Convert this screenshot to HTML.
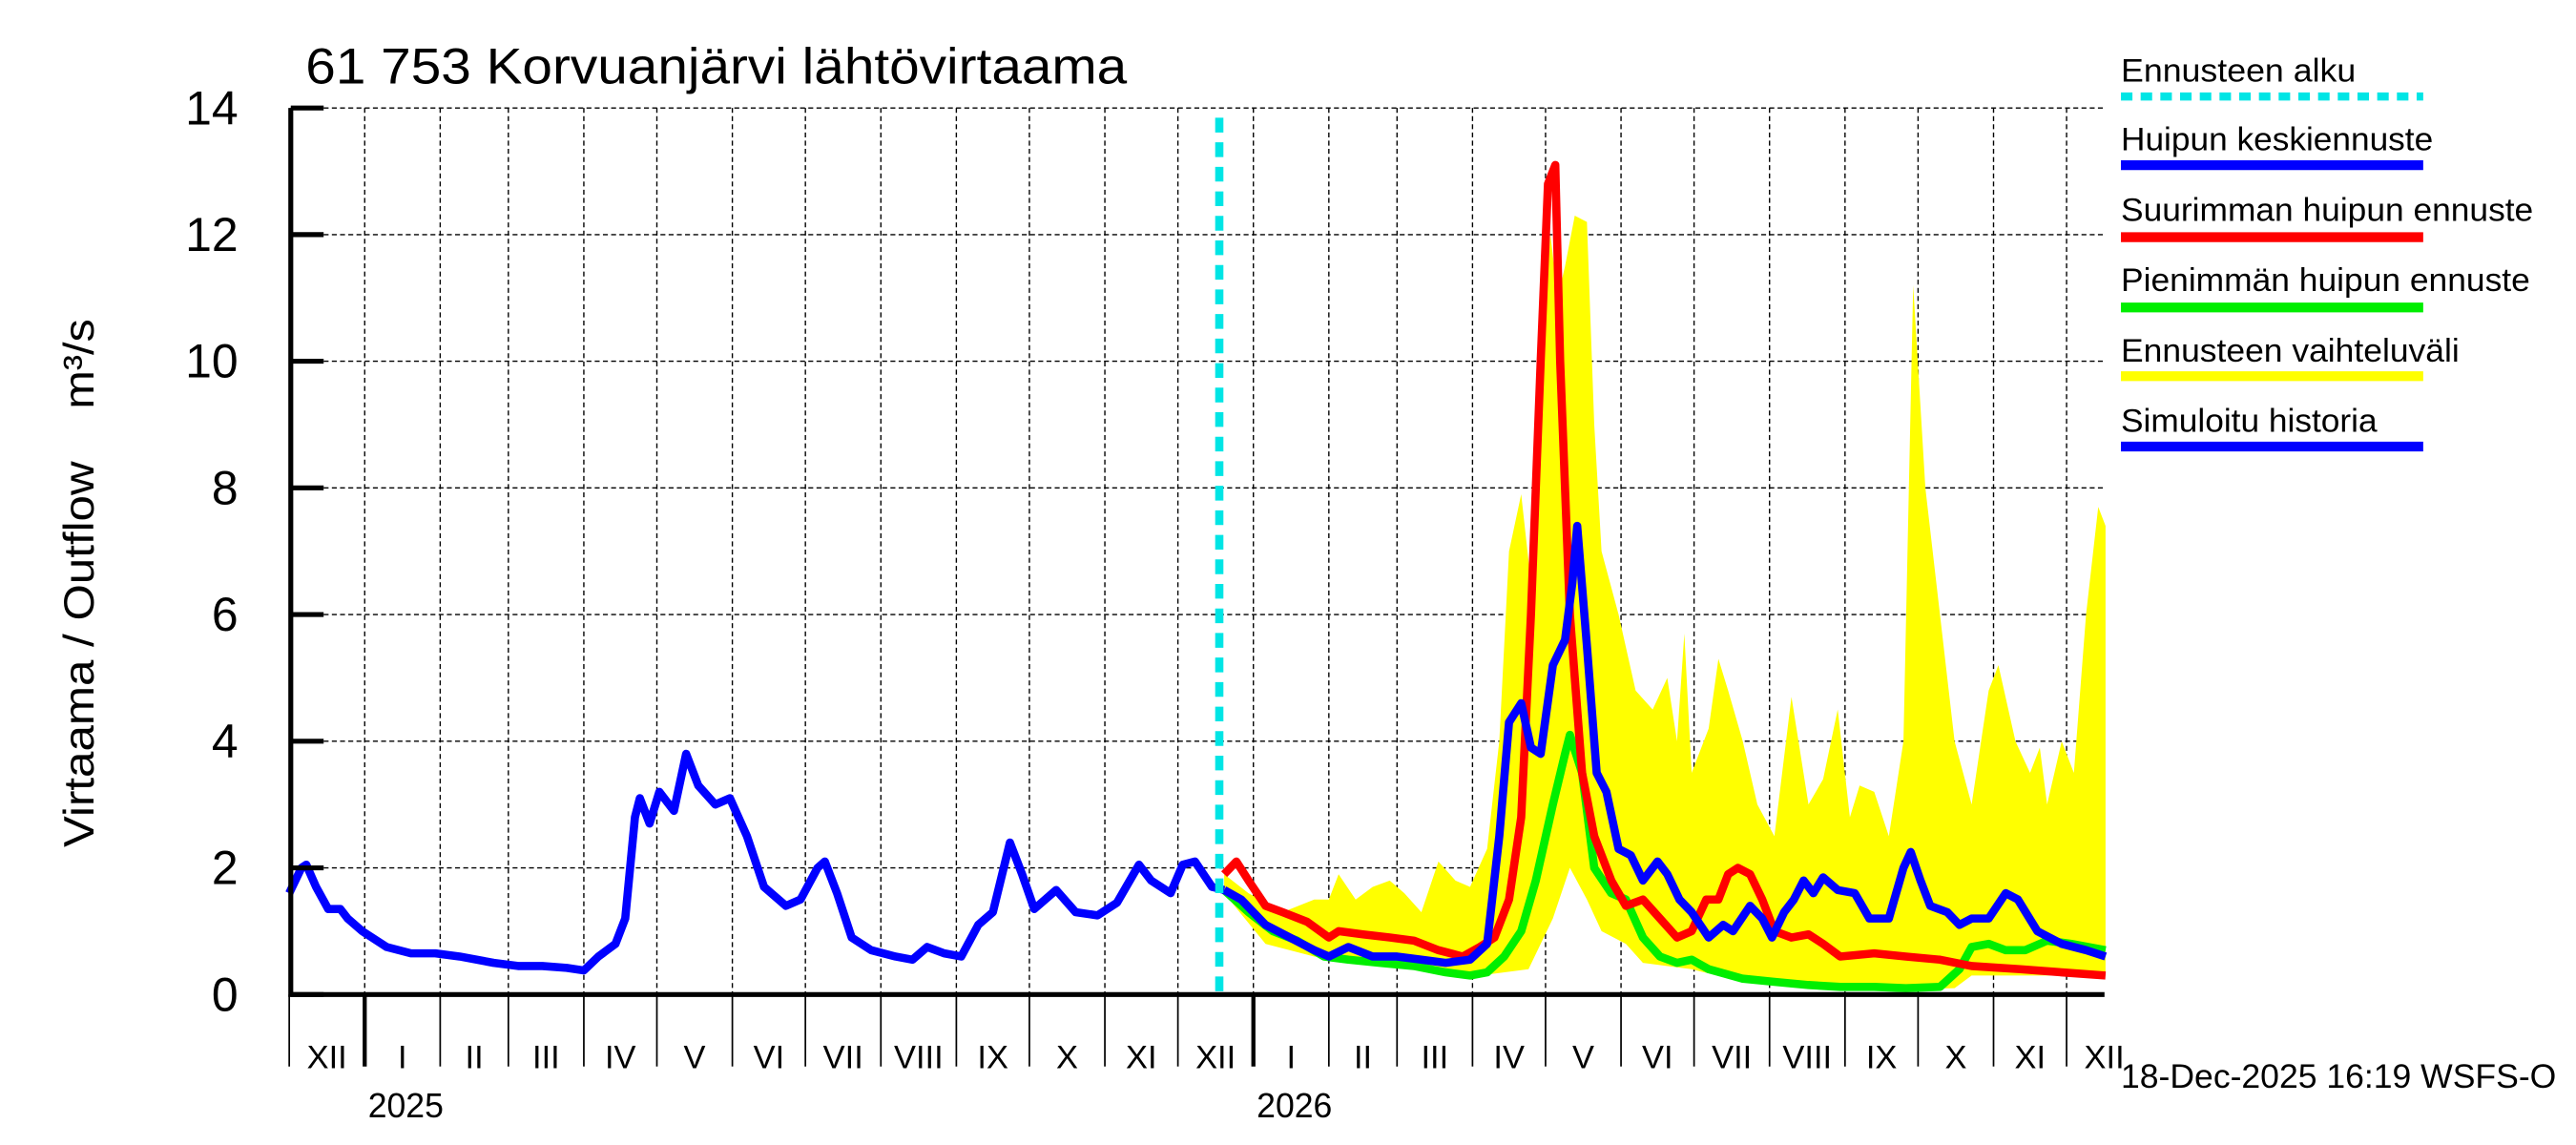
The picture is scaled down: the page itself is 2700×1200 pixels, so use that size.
<!DOCTYPE html>
<html><head><meta charset="utf-8"><style>
html,body{margin:0;padding:0;background:#fff;}
svg{display:block;}
text{font-family:"Liberation Sans",sans-serif;fill:#000;}
</style></head><body>
<svg id="chart" width="2700" height="1200" viewBox="0 0 1568 700" preserveAspectRatio="none" xmlns="http://www.w3.org/2000/svg">
<g id="grid"></g>
<g id="band"></g>
<g id="series"></g>
<g id="axes"></g>
<text x="186" y="51" font-size="31" textLength="500" lengthAdjust="spacingAndGlyphs">61 753 Korvuanjärvi lähtövirtaama</text>
<text transform="translate(57,518) rotate(-90)" font-size="26" textLength="236" lengthAdjust="spacingAndGlyphs">Virtaama / Outflow</text>
<text transform="translate(57,250) rotate(-90)" font-size="26" textLength="55" lengthAdjust="spacingAndGlyphs">m³/s</text>
<text x="1291" y="665" font-size="20.5" textLength="265" lengthAdjust="spacingAndGlyphs">18-Dec-2025 16:19 WSFS-O</text>
<g>
<text x="1291" y="50" font-size="20" textLength="143" lengthAdjust="spacingAndGlyphs">Ennusteen alku</text>
<line x1="1291" x2="1475" y1="59" y2="59" stroke="#00e5e5" stroke-width="5" stroke-dasharray="7,5"/>
<text x="1291" y="92" font-size="20" textLength="190" lengthAdjust="spacingAndGlyphs">Huipun keskiennuste</text>
<line x1="1291" x2="1475" y1="101" y2="101" stroke="#0000ff" stroke-width="6"/>
<text x="1291" y="135" font-size="20" textLength="251" lengthAdjust="spacingAndGlyphs">Suurimman huipun ennuste</text>
<line x1="1291" x2="1475" y1="145" y2="145" stroke="#ff0000" stroke-width="6"/>
<text x="1291" y="178" font-size="20" textLength="249" lengthAdjust="spacingAndGlyphs">Pienimmän huipun ennuste</text>
<line x1="1291" x2="1475" y1="188" y2="188" stroke="#00ee00" stroke-width="6"/>
<text x="1291" y="221" font-size="20" textLength="206" lengthAdjust="spacingAndGlyphs">Ennusteen vaihteluväli</text>
<line x1="1291" x2="1475" y1="230" y2="230" stroke="#ffff00" stroke-width="6"/>
<text x="1291" y="264" font-size="20" textLength="156" lengthAdjust="spacingAndGlyphs">Simuloitu historia</text>
<line x1="1291" x2="1475" y1="273" y2="273" stroke="#0000ff" stroke-width="6"/>
</g>
</svg>
<script>
// days since 2025-01-01
const histDays=[-31,-26,-24,-20,-15,-10,-7,-1,9,19,29,39,53,63,73,83,90,96,103,107,111,113,117,121,127,132,137,144,150,157,164,173,179,186,189,194,200,208,218,225,231,238,245,252,258,265,270,275,284,292,301,309,318,323,331,336,341,348,353];
const histVals=[1.6,2.0,2.05,1.7,1.35,1.35,1.2,1.0,0.75,0.65,0.65,0.6,0.5,0.45,0.45,0.42,0.38,0.6,0.8,1.2,2.8,3.1,2.7,3.2,2.9,3.8,3.3,3.0,3.1,2.5,1.7,1.4,1.5,2.0,2.1,1.6,0.9,0.7,0.6,0.55,0.75,0.65,0.6,1.1,1.3,2.4,1.9,1.35,1.65,1.3,1.25,1.45,2.05,1.8,1.6,2.05,2.1,1.7,1.65];
const medDays=[353,360,370,380,390,396,404,414,424,434,444,454,461,466,470,475,479,483,488,493,496,498,502,506,510,515,520,525,531,535,540,545,552,558,562,569,574,578,583,587,591,595,599,605,612,618,626,632,635,639,643,650,655,660,667,674,679,687,697,707,715];
const medVals=[1.65,1.5,1.1,0.9,0.7,0.6,0.75,0.6,0.6,0.55,0.5,0.55,0.8,2.5,4.3,4.6,3.9,3.8,5.2,5.6,6.5,7.4,5.5,3.5,3.2,2.3,2.2,1.8,2.1,1.9,1.5,1.3,0.9,1.1,1.0,1.4,1.2,0.9,1.3,1.5,1.8,1.6,1.85,1.65,1.6,1.2,1.2,2.0,2.25,1.8,1.4,1.3,1.1,1.2,1.2,1.6,1.5,1.0,0.8,0.7,0.6];
const maxDays=[353,358,363,370,377,387,396,400,410,421,431,441,451,458,464,470,475,479,483,486,489,491,495,500,505,512,518,525,532,539,545,551,556,560,564,569,574,579,586,593,599,606,620,633,647,660,680,697,715];
const maxVals=[1.9,2.1,1.8,1.4,1.3,1.15,0.9,1.0,0.95,0.9,0.85,0.7,0.6,0.75,0.9,1.5,2.8,6,10,12.8,13.1,10,6,3.5,2.5,1.8,1.4,1.5,1.2,0.9,1.0,1.5,1.5,1.9,2.0,1.9,1.5,1.0,0.9,0.95,0.8,0.6,0.65,0.6,0.55,0.45,0.4,0.35,0.3];
const minDays=[353,363,373,383,394,404,417,431,444,454,461,468,475,481,488,493,495,500,505,512,518,525,532,539,545,552,566,579,593,606,620,633,647,655,660,667,674,682,691,701,715];
const minVals=[1.65,1.3,1.0,0.85,0.6,0.55,0.5,0.45,0.35,0.3,0.35,0.6,1.0,1.8,3.0,3.8,4.1,3.5,2.0,1.6,1.5,0.9,0.6,0.5,0.55,0.4,0.25,0.2,0.15,0.12,0.12,0.1,0.12,0.4,0.75,0.8,0.7,0.7,0.85,0.8,0.7];
const upDays=[353,363,377,390,396,400,407,414,421,427,434,441,448,454,461,466,470,475,479,483,487,490,493,497,502,505,508,515,522,529,535,539,542,545,552,556,560,566,572,579,586,593,599,605,610,614,620,626,632,636,641,647,653,660,667,671,678,684,688,691,697,702,707,712,715];
const upVals=[1.9,1.6,1.3,1.5,1.5,1.9,1.5,1.7,1.8,1.6,1.3,2.1,1.8,1.7,2.3,4,7,7.9,6.5,10,12,11,11.5,12.3,12.2,9,7,6,4.8,4.5,5.0,4,5.7,3.5,4.2,5.3,4.8,4,3,2.5,4.7,3.0,3.4,4.5,2.8,3.3,3.2,2.5,4.0,11.2,8,6,4,3.0,4.8,5.2,4.0,3.5,3.9,3.0,4.0,3.5,6,7.7,7.4];
const loDays=[353,370,390,424,458,478,488,495,502,508,518,525,545,566,593,626,653,660,688,715];
const loVals=[1.6,0.8,0.6,0.45,0.3,0.4,1.2,2.0,1.5,1.0,0.8,0.5,0.4,0.2,0.1,0.08,0.1,0.3,0.3,0.3];
const yTicks=[0,2,4,6,8,10,12,14];
const monthStarts=[-31,0,31,59,90,120,151,181,212,243,273,304,334,365,396,424,455,485,516,546,577,608,638,669,699];
const monthLabels=["XII","I","II","III","IV","V","VI","VII","VIII","IX","X","XI","XII","I","II","III","IV","V","VI","VII","VIII","IX","X","XI","XII"];
const yearStarts=[0,365];
const yearLabels=["2025","2026"];
const forecastStart=[351];

const NS="http://www.w3.org/2000/svg";
const L=177,R=1281,T=66,B=608;
const X=d=>222+d*1.482;
const Y=v=>B-v*(B-T)/14;
function mk(tag,attrs,parent){const e=document.createElementNS(NS,tag);for(const k in attrs)e.setAttribute(k,attrs[k]);parent.appendChild(e);return e;}
const grid=document.getElementById('grid'),axes=document.getElementById('axes'),band=document.getElementById('band'),series=document.getElementById('series');

yTicks.forEach(v=>{
  if(v>0){const g=mk('line',{x1:L,x2:R,y1:Y(v),y2:Y(v),stroke:'#000','stroke-width':0.8,'stroke-dasharray':'3,2'},grid);
  
  }
  const t=mk('line',{x1:L,x2:L+20,y1:Y(v),y2:Y(v),stroke:'#000','stroke-width':3},axes);
  
  
  const lb=mk('text',{x:L-32,y:Y(v)+10,'font-size':29,'text-anchor':'end'},axes);lb.textContent=v;
  
  
});
monthStarts.forEach((d,i)=>{
  const x=X(d);
  if(i>0&&x<R){const g=mk('line',{x1:x,x2:x,y1:T,y2:B,stroke:'#000','stroke-width':0.8,'stroke-dasharray':'3,2'},grid);
  
  }
  if(x<R){const t=mk('line',{x1:x,x2:x,y1:B,y2:652,stroke:'#000','stroke-width':yearStarts.includes(d)?2.5:1},axes);
  
  }
  const lb=mk('text',{x:x+(X(monthStarts[i+1]||d+31)-x)/2,y:653,'font-size':20,'text-anchor':'middle'},axes);lb.textContent=monthLabels[i];
  
  
});
yearStarts.forEach((d,i)=>{
  const lb=mk('text',{x:X(d)+2,y:683,'font-size':21,textLength:46,lengthAdjust:'spacingAndGlyphs'},axes);lb.textContent=yearLabels[i];
  
  
});
const ax=mk('path',{d:`M${L},${T} V${B} H${R}`,fill:'none',stroke:'#000','stroke-width':3},axes);



let bp='M'+upDays.map((d,i)=>X(d)+','+Y(upVals[i])).join(' L');
for(let i=loDays.length-1;i>=0;i--)bp+=' L'+X(loDays[i])+','+Y(loVals[i]);
const bandEl=mk('path',{d:bp+'Z',fill:'#ffff00',stroke:'none'},band);



function line(ds,vs,col,name){
  const p=mk('path',{d:'M'+ds.map((d,i)=>X(d)+','+Y(vs[i])).join(' L'),fill:'none',stroke:col,'stroke-width':5,'stroke-linejoin':'round'},series);
  
  
}
line(minDays,minVals,'#00ee00','min-peak-forecast-line');
line(maxDays,maxVals,'#ff0000','max-peak-forecast-line');
line(medDays,medVals,'#0000ff','median-forecast-line');
line(histDays,histVals,'#0000ff','simulated-history-line');
const fs=mk('line',{x1:X(forecastStart[0]),x2:X(forecastStart[0]),y1:72,y2:B,stroke:'#00e5e5','stroke-width':5,'stroke-dasharray':'9,6'},series);


</script>
</body></html>
